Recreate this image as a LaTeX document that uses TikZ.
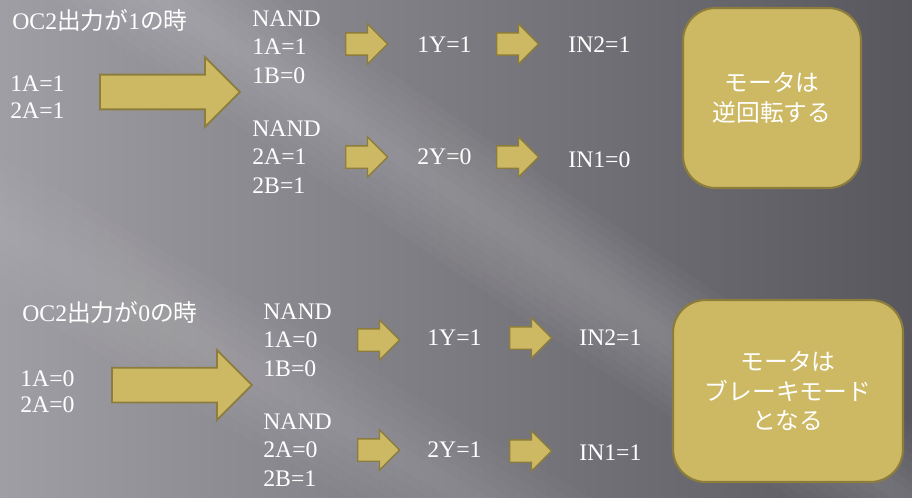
\documentclass[tikz,border=0pt]{standalone}
\usepackage{fontspec}
\setmainfont{Liberation Serif}
\newfontfamily\jpfont{Noto Sans CJK JP}
\usepackage{tikz}
\usetikzlibrary{shapes.arrows}

\definecolor{gold}{HTML}{CDB964}
\definecolor{golddark}{HTML}{8C7D3C}
\definecolor{bglight}{HTML}{A09EA5}
\definecolor{bgmid}{HTML}{737178}
\definecolor{bgdark}{HTML}{58575D}

\tikzset{
  txt/.style={text=white, font=\fontsize{13.5}{16.2}\selectfont, inner sep=0pt, anchor=west, align=left},
  bigarrow/.style={single arrow, draw=golddark, fill=gold, line width=1pt, anchor=tail,
    inner xsep=0pt, inner ysep=0.33cm, minimum height=2.8cm, single arrow head extend=0.35cm},
  smallarrow/.style={single arrow, draw=golddark, fill=gold, line width=0.8pt, anchor=tail,
    inner xsep=0pt, inner ysep=0.21cm, minimum height=0.84cm, single arrow head extend=0.18cm},
  resultbox/.style={draw=golddark, fill=gold, line width=1.2pt, rounded corners=0.65cm,
    text=white, font=\jpfont\fontsize{13.5}{17}\selectfont, align=center, inner sep=0pt}
}

\begin{document}
\begin{tikzpicture}[x=0.02cm, y=-0.02cm]
    % background
    \useasboundingbox (0,0) rectangle (912,497);
    \begin{scope}
      \clip (0,0) rectangle (912,497);
      \shade[left color=bglight, middle color=bgmid, right color=bgdark] (0,0) rectangle (912,497);

      % soft streaks of light
      \begin{scope}[shift={(360,130)}, rotate=-34]
        \foreach \w in {8,16,...,64}
          \fill[white, opacity=0.025] (-700,-\w) rectangle (700,\w);
      \end{scope}
      \begin{scope}[shift={(180,330)}, rotate=-30]
        \foreach \w in {10,20,...,60}
          \fill[white, opacity=0.018] (-700,-\w) rectangle (700,\w);
      \end{scope}
    \end{scope}

    % when OC2 is 1
    \node[txt] (title1) at (12,20) {OC2{\jpfont 出力が}1{\jpfont の時}};
    \node[txt, font=\fontsize{13.5}{15.5}\selectfont] (inA) at (10,97) {1A=1\\2A=1};
    \node[bigarrow] (bigA) at (99,92) {};

    \node[txt] (nandA1) at (252,47) {NAND\\1A=1\\1B=0};
    \node[txt] (nandA2) at (252,157) {NAND\\2A=1\\2B=1};

    \node[smallarrow] (arrA1) at (345,44) {};
    \node[txt] (outA1) at (417,45) {1Y=1};
    \node[smallarrow] (arrA2) at (496,44) {};
    \node[txt] (inA2) at (568,45) {IN2=1};

    \node[smallarrow] (arrA3) at (345,157) {};
    \node[txt] (outA2) at (417,157) {2Y=0};
    \node[smallarrow] (arrA4) at (496,157) {};
    \node[txt] (inA1) at (568,160) {IN1=0};

    \node[resultbox, minimum width=3.56cm, minimum height=3.6cm] (boxA) at (772,98)
      {モータは\\逆回転する};

    % when OC2 is 0
    \node[txt] (title2) at (22,312) {OC2{\jpfont 出力が}0{\jpfont の時}};
    \node[txt, font=\fontsize{13.5}{15}\selectfont] (inB) at (20,392) {1A=0\\2A=0};
    \node[bigarrow] (bigB) at (111,385) {};

    \node[txt] (nandB1) at (263,340) {NAND\\1A=0\\1B=0};
    \node[txt] (nandB2) at (263,450) {NAND\\2A=0\\2B=1};

    \node[smallarrow] (arrB1) at (357,340) {};
    \node[txt] (outB1) at (427,338) {1Y=1};
    \node[smallarrow] (arrB2) at (509,338) {};
    \node[txt] (inB2) at (579,338) {IN2=1};

    \node[smallarrow] (arrB3) at (357,450) {};
    \node[txt] (outB2) at (427,450) {2Y=1};
    \node[smallarrow] (arrB4) at (509,451) {};
    \node[txt] (inB1) at (579,453) {IN1=1};

    \node[resultbox, minimum width=4.6cm, minimum height=3.64cm] (boxB) at (788,391)
      {モータは\\ブレーキモード\\となる};

\end{tikzpicture}
\end{document}
